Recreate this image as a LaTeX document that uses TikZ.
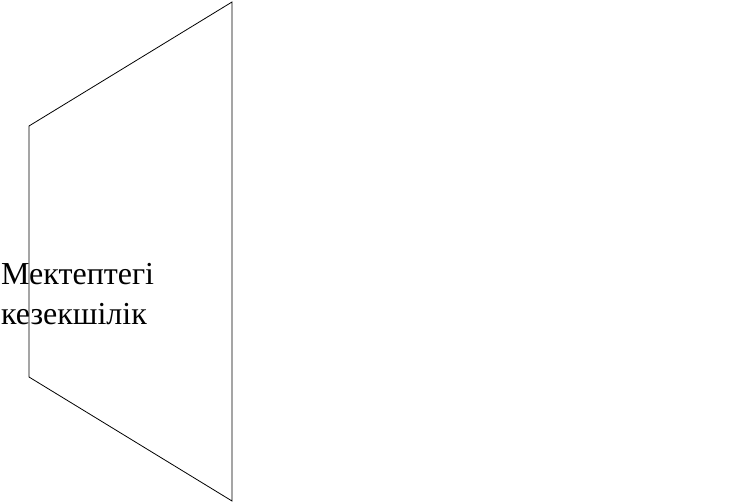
\documentclass[tikz,border=0pt]{standalone}
\usepackage{fontspec}
\setmainfont{Liberation Serif}
\usepackage{tikz}
\usetikzlibrary{positioning}

\begin{document}
\begin{tikzpicture}[
  x=1pt,y=1pt,
  funnel/.style={draw,line width=0.8pt,line join=miter},
  label/.style={inner sep=0pt,align=left,font=\fontsize{32}{40}\selectfont},
]
\useasboundingbox (0,0) rectangle (732,-503);
\coordinate (lt) at (29,-126);
\coordinate (rt) at (232,-2);
\coordinate (rb) at (232,-501);
\coordinate (lb) at (29,-377);
\draw[funnel] (lt) -- (rt) -- (rb) -- (lb) -- cycle;
% base anchor sits on the last line
\node[label,anchor=base west] (duty) at (1,-324)
  {Мектептегі\\кезекшілік};
\end{tikzpicture}
\end{document}
